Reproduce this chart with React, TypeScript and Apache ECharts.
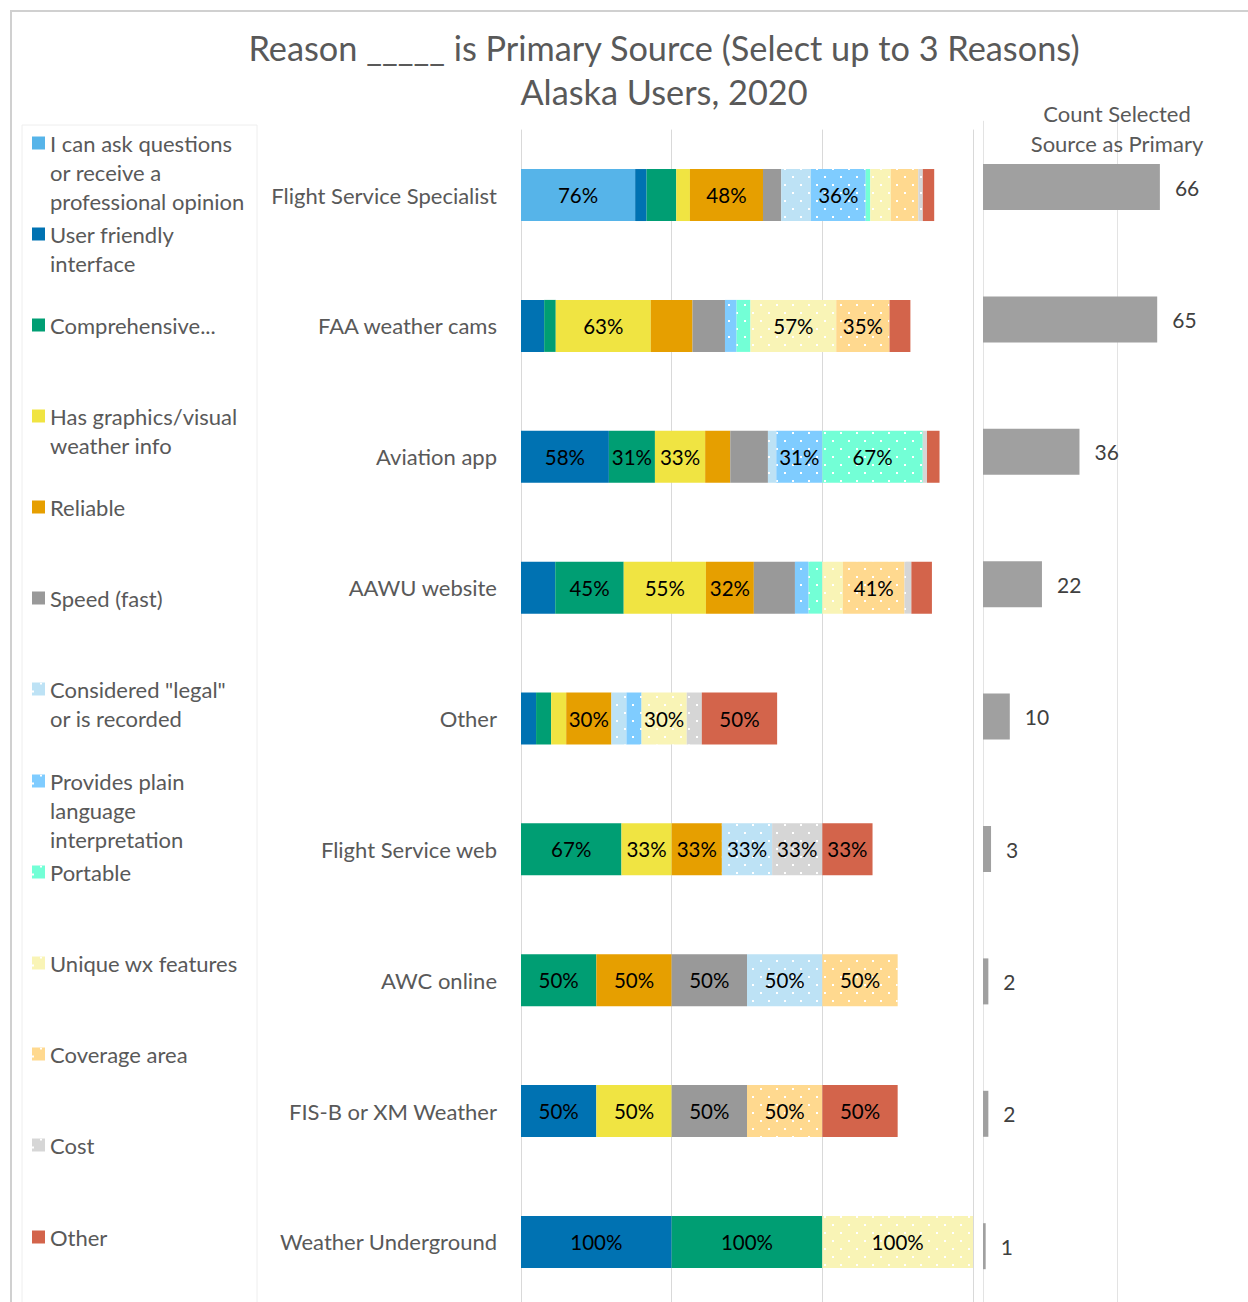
import React, { useEffect, useRef } from 'react';
import * as echarts from 'echarts';

const FONT = 'Lato';

const categories = [
  'Flight Service Specialist',
  'FAA weather cams',
  'Aviation app',
  'AAWU website',
  'Other',
  'Flight Service web',
  'AWC online',
  'FIS-B or XM Weather',
  'Weather Underground',
];

const counts = [66, 65, 36, 22, 10, 3, 2, 2, 1];

const reasonNames = [
  'I can ask questions or receive a professional opinion',
  'User friendly interface',
  'Comprehensive...',
  'Has graphics/visual weather info',
  'Reliable',
  'Speed (fast)',
  'Considered "legal" or is recorded',
  'Provides plain language interpretation',
  'Portable',
  'Unique wx features',
  'Coverage area',
  'Cost',
  'Other',
];

const legendLabels = [
  'I can ask questions\nor receive a\nprofessional opinion',
  'User friendly\ninterface',
  'Comprehensive...',
  'Has graphics/visual\nweather info',
  'Reliable',
  'Speed (fast)',
  'Considered "legal"\nor is recorded',
  'Provides plain\nlanguage\ninterpretation',
  'Portable',
  'Unique wx features',
  'Coverage area',
  'Cost',
  'Other',
];

const reasonColors = [
  '#56B4E9', '#0072B2', '#009E73', '#F0E442', '#E69F00', '#999999',
  '#BDE2F5', '#7FCCFF', '#73FFD6', '#F9F4B6', '#FFD98F', '#D6D6D6', '#D3644B',
];

const dottedReasons = [false, false, false, false, false, false, true, true, true, true, true, true, false];

// percent of respondents (per source) selecting each reason
const askVals = [75.76, 0, 0, 0, 0, 0, 0, 0, 0];
const userVals = [7.58, 15.38, 58.33, 22.73, 10, 0, 0, 50, 100];
const compVals = [19.7, 7.69, 30.56, 45.45, 10, 66.67, 50, 0, 100];
const graphicsVals = [9.09, 63.08, 33.33, 54.55, 10, 33.33, 0, 50, 0];
const reliableVals = [48.48, 27.69, 16.67, 31.82, 30, 33.33, 50, 0, 0];
const speedVals = [12.12, 21.54, 25, 27.27, 0, 0, 50, 50, 0];
const legalVals = [19.7, 0, 5.56, 0, 10, 33.33, 50, 0, 0];
const plainVals = [36.36, 7.69, 30.56, 9.09, 10, 0, 0, 0, 0];
const portableVals = [3.03, 9.23, 66.67, 9.09, 0, 0, 0, 0, 0];
const uniqueVals = [13.64, 56.92, 0, 13.64, 30, 0, 0, 0, 100];
const coverageVals = [18.18, 35.38, 0, 40.91, 0, 0, 50, 50, 0];
const costVals = [3.03, 0, 2.78, 4.55, 10, 33.33, 0, 0, 0];
const otherVals = [7.58, 13.85, 8.33, 13.64, 50, 33.33, 0, 50, 0];

const reasonValues = [
  askVals, userVals, compVals, graphicsVals, reliableVals, speedVals,
  legalVals, plainVals, portableVals, uniqueVals, coverageVals, costVals, otherVals,
];

const legendFirstLineY = [143, 234, 325, 416, 507, 598, 689, 781, 872, 963, 1054, 1145, 1237];

const W = 1260;
const H = 1314;

export default function App() {
  const ref = useRef<HTMLDivElement>(null);

  useEffect(() => {
    if (!ref.current) return;
    const chart = echarts.init(ref.current, undefined, { renderer: 'svg' });

    const decal = {
      symbol: 'rect',
      symbolSize: 1,
      color: '#ffffff',
      dashArrayX: [[2, 14], [0, 8, 2, 6]],
      dashArrayY: [2, 6],
    };

    const LH = 29;

    const legends = reasonNames.map((name, i) => {
      const n = legendLabels[i].split('\n').length;
      // prepend empty lines so the first text line sits level with the icon
      const shown = '\n'.repeat(n - 1) + legendLabels[i];
      return {
        data: [name],
        left: 32,
        top: legendFirstLineY[i] - (2 * n - 1) * (LH / 2),
        padding: 0,
        orient: 'vertical',
        icon: 'rect',
        itemWidth: 13,
        itemHeight: 13,
        selectedMode: false,
        formatter: () => shown,
        textStyle: {
          fontFamily: FONT,
          fontSize: 22,
          color: '#595959',
          lineHeight: LH,
        },
      };
    });

    const reasonSeries = reasonNames.map((name, i) => ({
      name,
      type: 'bar',
      stack: 'pct',
      xAxisIndex: 0,
      yAxisIndex: 0,
      barWidth: 52,
      data: reasonValues[i],
      itemStyle: dottedReasons[i]
        ? { color: reasonColors[i], decal }
        : { color: reasonColors[i] },
      emphasis: { disabled: true },
      label: {
        show: true,
        position: 'inside',
        fontFamily: FONT,
        fontSize: 20.5,
        color: '#000000',
        formatter: (p: any) => (p.value >= 29.5 ? Math.round(p.value) + '%' : ''),
      },
    }));

    const option: any = {
      animation: false,
      backgroundColor: '#ffffff',
      textStyle: { fontFamily: FONT },
      title: [
        {
          text: 'Reason _____ is Primary Source (Select up to 3 Reasons)\nAlaska Users, 2020',
          left: 664,
          top: 25,
          textAlign: 'center',
          padding: 0,
          textStyle: {
            fontFamily: FONT,
            fontSize: 34.3,
            fontWeight: 'normal',
            color: '#595959',
            lineHeight: 44,
          },
        },
        {
          text: 'Count Selected\nSource as Primary',
          left: 1117,
          top: 98,
          textAlign: 'center',
          padding: 0,
          textStyle: {
            fontFamily: FONT,
            fontSize: 22,
            fontWeight: 'normal',
            color: '#595959',
            lineHeight: 30,
          },
        },
      ],
      legend: legends,
      graphic: [
        {
          type: 'rect',
          shape: { x: 11, y: 11, width: 1400, height: 1400 },
          style: { fill: 'none', stroke: '#D0D0D0', lineWidth: 2 },
          silent: true,
        },
        {
          type: 'rect',
          shape: { x: 22, y: 125, width: 235, height: 1300 },
          style: { fill: 'none', stroke: '#EEEEEE', lineWidth: 1 },
          silent: true,
        },
      ],
      grid: [
        { left: 521, top: 129.6, width: 452, height: 1177.8, containLabel: false },
        { left: 983, top: 120.8, width: 268, height: 1191.6, containLabel: false },
      ],
      xAxis: [
        {
          type: 'value',
          gridIndex: 0,
          min: 0,
          max: 300,
          interval: 100,
          axisLabel: { show: false },
          axisLine: { show: false },
          axisTick: { show: false },
          splitLine: { show: true, lineStyle: { color: '#D9D9D9', width: 1 } },
        },
        {
          type: 'value',
          gridIndex: 1,
          min: 0,
          max: 100,
          interval: 50,
          axisLabel: { show: false },
          axisLine: { show: false },
          axisTick: { show: false },
          splitLine: { show: true, lineStyle: { color: '#E3E3E3', width: 1 } },
        },
      ],
      yAxis: [
        {
          type: 'category',
          gridIndex: 0,
          data: categories,
          inverse: true,
          axisLine: { show: false },
          axisTick: { show: false },
          axisLabel: { fontFamily: FONT, fontSize: 22, color: '#595959', margin: 24 },
        },
        {
          type: 'category',
          gridIndex: 1,
          data: categories,
          inverse: true,
          axisLine: { show: false },
          axisTick: { show: false },
          axisLabel: { show: false },
        },
      ],
      series: [
        ...reasonSeries,
        {
          name: 'Count Selected Source as Primary',
          type: 'bar',
          xAxisIndex: 1,
          yAxisIndex: 1,
          barWidth: 46,
          data: counts,
          itemStyle: { color: '#A0A0A0' },
          emphasis: { disabled: true },
          label: {
            show: true,
            position: 'right',
            distance: 15,
            fontFamily: FONT,
            fontSize: 21,
            color: '#404040',
          },
        },
      ],
    };

    chart.setOption(option);
    return () => chart.dispose();
  }, []);

  return (
    <div style={{ position: 'absolute', left: 0, top: 0, width: 1248, height: 1302, overflow: 'hidden', background: '#fff' }}>
      <div ref={ref} style={{ width: W, height: H }} />
    </div>
  );
}
